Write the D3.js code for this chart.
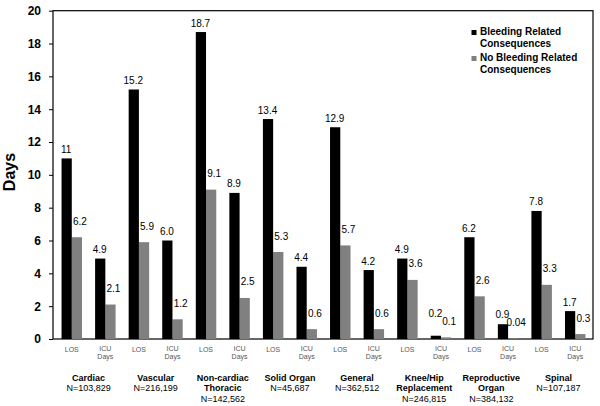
<!DOCTYPE html>
<html>
<head>
<meta charset="utf-8">
<script src="https://cdn.jsdelivr.net/npm/d3@7"></script>
<style>
  html, body { margin: 0; padding: 0; background: #fff; }
  svg { display: block; font-family: "Liberation Sans", Arial, sans-serif; }
</style>
</head>
<body>
<svg id="chart" width="600" height="406"></svg>
<script>
// ---- data ----
const groupNames = [["Cardiac"], ["Vascular"], ["Non-cardiac", "Thoracic"], ["Solid Organ"],
  ["General"], ["Knee/Hip", "Replacement"], ["Reproductive", "Organ"], ["Spinal"]];
const groupN = ["N=103,829", "N=216,199", "N=142,562", "N=45,687", "N=362,512",
  "N=246,815", "N=384,132", "N=107,187"];
const measures = ["LOS", "ICU Days"];
const bleedingLOS = [11, 15.2, 18.7, 13.4, 12.9, 4.9, 6.2, 7.8];
const bleedingICU = [4.9, 6.0, 8.9, 4.4, 4.2, 0.2, 0.9, 1.7];
const noBleedingLOS = [6.2, 5.9, 9.1, 5.3, 5.7, 3.6, 2.6, 3.3];
const noBleedingICU = [2.1, 1.2, 2.5, 0.6, 0.6, 0.1, 0.04, 0.3];
const seriesNames = ["Bleeding Related Consequences", "No Bleeding Related Consequences"];
const seriesLegendLines = [["Bleeding Related", "Consequences"], ["No Bleeding Related", "Consequences"]];
const yTicks = [0, 2, 4, 6, 8, 10, 12, 14, 16, 18, 20];

(function () {
// ---- build rows ----
const rows = [];
groupNames.forEach((g, i) => {
  rows.push({ id: i * 2, group: i, measure: measures[0], b: bleedingLOS[i], n: noBleedingLOS[i] });
  rows.push({ id: i * 2 + 1, group: i, measure: measures[1], b: bleedingICU[i], n: noBleedingICU[i] });
});

const fmt = v => (v >= 10 && v === Math.round(v)) ? String(v) : (v < 0.1 ? v.toFixed(2) : v.toFixed(1));
const colors = { b: "#000000", n: "#808080" };

const svg = d3.select("#chart");
const pLeft = 53, pRight = 593, pTop = 10.7, pBottom = 339;

const y = d3.scaleLinear().domain([0, 20]).range([pBottom, pTop]);
const x0 = d3.scaleBand().domain(rows.map(r => r.id)).range([55, 592])
  .paddingInner(0.39).paddingOuter(0.195);
const x1 = d3.scaleBand().domain(["b", "n"]).range([0, x0.bandwidth()]);

// label positions: gray labels sit higher; black label moved above a gray label it would collide with
const nLabelY = d => y(d.n) - 12.5;
const bLabelY = d => {
  const by = y(d.b) - 5.5, ny = nLabelY(d);
  return by > ny - 8 ? ny - 8 : by;
};

// frame
svg.append("rect").attr("x", pLeft).attr("y", pTop).attr("width", pRight - pLeft).attr("height", pBottom - pTop)
  .attr("fill", "none").attr("stroke", "#000").attr("stroke-width", 1.2);

// y axis
const yAxis = svg.append("g").attr("transform", `translate(${pLeft},0)`)
  .call(d3.axisLeft(y).tickValues(yTicks).tickSize(4).tickPadding(8).tickFormat(d3.format("d")));
yAxis.select(".domain").remove();
yAxis.selectAll("line").attr("stroke", "#000");
yAxis.selectAll("text").attr("font-size", 12).attr("font-weight", "bold").attr("fill", "#000")
  .attr("font-family", "'Liberation Sans', Arial, sans-serif");

svg.append("text").attr("transform", "translate(15,172) rotate(-90)")
  .attr("text-anchor", "middle").attr("font-size", 16).attr("font-weight", "bold").text("Days");

// gray bars
const gRows = svg.append("g");
gRows.selectAll("rect.n").data(rows).join("rect").attr("class", "n")
  .attr("x", d => x0(d.id) + x1("n")).attr("width", x1.bandwidth())
  .attr("y", d => y(d.n)).attr("height", d => y(0) - y(d.n)).attr("fill", colors.n);
gRows.selectAll("text.nl").data(rows).join("text").attr("class", "nl")
  .attr("x", d => x0(d.id) + x1("n") + x1.bandwidth() / 2 + 3)
  .attr("y", nLabelY).attr("text-anchor", "middle").attr("font-size", 10)
  .text(d => fmt(d.n));
// black bars
gRows.selectAll("rect.b").data(rows).join("rect").attr("class", "b")
  .attr("x", d => x0(d.id) + x1("b")).attr("width", x1.bandwidth())
  .attr("y", d => y(d.b)).attr("height", d => y(0) - y(d.b)).attr("fill", colors.b);
gRows.selectAll("text.bl").data(rows).join("text").attr("class", "bl")
  .attr("x", d => x0(d.id) + x1("b") + x1.bandwidth() / 2 - 0.5)
  .attr("y", bLabelY).attr("text-anchor", "middle").attr("font-size", 10)
  .text(d => fmt(d.b));

// measure labels
const ml = svg.append("g").attr("fill", "#555").attr("font-size", 7).attr("text-anchor", "middle");
rows.forEach(r => {
  const cx = x0(r.id) + x0.bandwidth() / 2;
  const parts = r.measure.split(" ");
  if (parts.length === 1) {
    ml.append("text").attr("x", cx).attr("y", 352).text(parts[0]);
  } else {
    ml.append("text").attr("x", cx).attr("y", 351).text(parts[0]);
    ml.append("text").attr("x", cx).attr("y", 359).text(parts[1]);
  }
});

// group labels
groupNames.forEach((lines, i) => {
  const cx = (x0(i * 2) + x0(i * 2 + 1) + x0.bandwidth()) / 2;
  lines.forEach((ln, k) => {
    svg.append("text").attr("x", cx).attr("y", 380.5 + k * 10.5).attr("text-anchor", "middle")
      .attr("font-size", 9).attr("font-weight", "bold").text(ln);
  });
  svg.append("text").attr("x", cx).attr("y", 380.5 + lines.length * 10.5).attr("text-anchor", "middle")
    .attr("font-size", 9).text(groupN[i]);
});

// legend
const legend = svg.append("g");
["b", "n"].forEach((k, i) => {
  const base = 35 + i * 26;
  legend.append("rect").attr("x", 471.5).attr("y", base - 5).attr("width", 5).attr("height", 5)
    .attr("fill", colors[k]);
  seriesLegendLines[i].forEach((ln, j) => {
    legend.append("text").attr("x", 480).attr("y", base + j * 11.5).attr("font-size", 10)
      .attr("font-weight", "bold").text(ln);
  });
});
})();
</script>
</body>
</html>
